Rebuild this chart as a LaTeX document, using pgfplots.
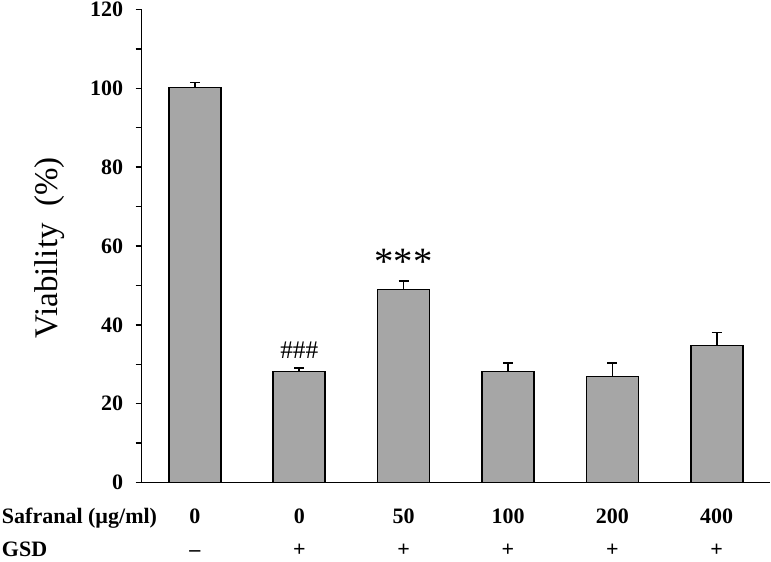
\documentclass[border=0pt]{standalone}
\usepackage{pgfplots}
\pgfplotsset{compat=1.18}
\usepackage{fontspec}
\setmainfont{Liberation Serif}
\definecolor{barfill}{RGB}{166,166,166}
\begin{document}
\begin{tikzpicture}
\useasboundingbox (-106.3pt,-58.9pt) rectangle (472pt,361.9pt);
\begin{axis}[
  at={(0,0)}, anchor=south west,
  scale only axis, width=471.2pt, height=354.8pt,
  xmin=-0.51, xmax=5.51, ymin=0, ymax=120,
  clip=false,
  axis x line=bottom, axis y line=left,
  axis line style={-, line width=1.1pt, black},
  xtick=\empty,
  ytick={0,20,...,120}, minor ytick={10,30,...,110},
  tick align=outside, major tick length=4.5pt, minor tick length=4.5pt,
  tick style={line width=1.1pt, black},
  /pgf/number format/assume math mode=true,
  yticklabel style={font=\fontsize{16.5}{18}\selectfont\bfseries, xshift=-6pt},
  ybar, bar width=39pt,
]
\addplot[fill=barfill, draw=black, line width=1.2pt,
  error bars/.cd, y dir=plus, y explicit,
  error bar style={line width=1.2pt, black},
  error mark options={rotate=90, black, line width=1.2pt, mark size=3.75pt}]
  coordinates {
   (0,100.2) +- (0,1.3)
   (1,28.2)  +- (0,0.9)
   (2,49.0)  +- (0,2.1)
   (3,28.2)  +- (0,2.1)
   (4,26.9)  +- (0,3.4)
   (5,34.8)  +- (0,3.3)
  };
% significance marks
\node[inner sep=0, font=\fontsize{19}{20}\selectfont] at (axis cs:1,33.6) {\#\#\#};
\node[inner sep=0, anchor=base, font=\fontsize{29}{30}\selectfont] at (axis cs:2,52.8) {***};
% y label
\node[inner sep=0, rotate=90, font=\fontsize{24.75}{26}\selectfont] at ([xshift=-68.8pt]rel axis cs:0,0.496) {Viability\ \ (\%)};
% bottom rows
\begin{scope}[every node/.style={inner sep=0, font=\fontsize{16.5}{18}\selectfont\bfseries}]
\node[anchor=base west, xshift=-105pt, yshift=-30.4pt] at (rel axis cs:0,0) {Safranal (µg/ml)};
\node[anchor=base west, xshift=-105pt, yshift=-55.4pt] at (rel axis cs:0,0) {GSD};
\node[anchor=base, yshift=-30.4pt] at (axis cs:0,0) {0};
\node[anchor=base, yshift=-30.4pt] at (axis cs:1,0) {0};
\node[anchor=base, yshift=-30.4pt] at (axis cs:2,0) {50};
\node[anchor=base, yshift=-30.4pt] at (axis cs:3,0) {100};
\node[anchor=base, yshift=-30.4pt] at (axis cs:4,0) {200};
\node[anchor=base, yshift=-30.4pt] at (axis cs:5,0) {400};
\node[anchor=base, yshift=-55.4pt] at (axis cs:0,0) {–};
\node[anchor=base, yshift=-55.4pt] at (axis cs:1,0) {+};
\node[anchor=base, yshift=-55.4pt] at (axis cs:2,0) {+};
\node[anchor=base, yshift=-55.4pt] at (axis cs:3,0) {+};
\node[anchor=base, yshift=-55.4pt] at (axis cs:4,0) {+};
\node[anchor=base, yshift=-55.4pt] at (axis cs:5,0) {+};
\end{scope}
\end{axis}
\end{tikzpicture}
\end{document}
